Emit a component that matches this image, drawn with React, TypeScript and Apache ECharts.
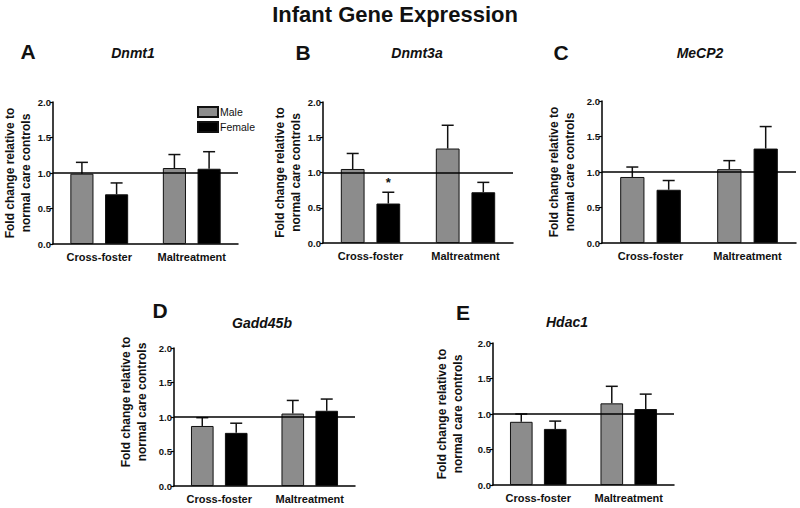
import React, { useEffect, useRef } from 'react';
import * as echarts from 'echarts';

const FONT = '"Liberation Sans", Arial, Helvetica, sans-serif';

const chartTitle = 'Infant Gene Expression';
const categories = ['Cross-foster', 'Maltreatment'];
const sexes = ['Male', 'Female'];
const yTicks = [0, 0.5, 1.0, 1.5, 2.0];
const yAxisName = 'Fold change relative to\nnormal care controls';
const referenceLevel = 1.0;

const panelLetters = ['A', 'B', 'C', 'D', 'E'];
const geneNames = ['Dnmt1', 'Dnmt3a', 'MeCP2', 'Gadd45b', 'Hdac1'];

// mean fold change, [Cross-foster, Maltreatment]
const dnmt1Male = [0.99, 1.07];
const dnmt1Female = [0.7, 1.06];
const dnmt3aMale = [1.05, 1.34];
const dnmt3aFemale = [0.56, 0.72];
const mecp2Male = [0.93, 1.04];
const mecp2Female = [0.75, 1.33];
const gadd45bMale = [0.87, 1.05];
const gadd45bFemale = [0.77, 1.09];
const hdac1Male = [0.89, 1.15];
const hdac1Female = [0.79, 1.07];

// SEM (upper whisker length)
const dnmt1MaleSem = [0.16, 0.19];
const dnmt1FemaleSem = [0.16, 0.24];
const dnmt3aMaleSem = [0.22, 0.33];
const dnmt3aFemaleSem = [0.16, 0.14];
const mecp2MaleSem = [0.14, 0.12];
const mecp2FemaleSem = [0.13, 0.31];
const gadd45bMaleSem = [0.12, 0.19];
const gadd45bFemaleSem = [0.14, 0.17];
const hdac1MaleSem = [0.11, 0.24];
const hdac1FemaleSem = [0.11, 0.21];

// significance markers
const dnmt3aFemaleSig = ['*', ''];

const maleMeans = [dnmt1Male, dnmt3aMale, mecp2Male, gadd45bMale, hdac1Male];
const femaleMeans = [dnmt1Female, dnmt3aFemale, mecp2Female, gadd45bFemale, hdac1Female];
const maleSems = [dnmt1MaleSem, dnmt3aMaleSem, mecp2MaleSem, gadd45bMaleSem, hdac1MaleSem];
const femaleSems = [dnmt1FemaleSem, dnmt3aFemaleSem, mecp2FemaleSem, gadd45bFemaleSem, hdac1FemaleSem];
const femaleSigs: string[][] = [['', ''], dnmt3aFemaleSig, ['', ''], ['', ''], ['', '']];

// layout (pixels)
const layouts = [
  { left: 53, width: 185, top: 102, bottom: 244, nameGap: 15, shift: 0, letter: [28, 51], gene: [133, 53] },
  { left: 323, width: 190, top: 102, bottom: 243, nameGap: 15, shift: 0, letter: [303, 52], gene: [417, 53] },
  { left: 602, width: 194, top: 101, bottom: 243, nameGap: 24, shift: 0, letter: [561, 52], gene: [700, 53] },
  { left: 174, width: 181, top: 348, bottom: 486, nameGap: 24, shift: 15, letter: [160, 310], gene: [262, 323] },
  { left: 493, width: 181, top: 343, bottom: 485, nameGap: 27, shift: 0, letter: [463, 312], gene: [567, 322] },
];

const MALE_COLOR = '#8c8c8c';
const FEMALE_COLOR = '#000000';
const BAR_FRAC = 0.25; // of category width
const GAP_FRAC = 0.5; // of bar width

export default function App() {
  const ref = useRef<HTMLDivElement>(null);

  useEffect(() => {
    if (!ref.current) return;
    const chart = echarts.init(ref.current, undefined, { renderer: 'svg' });

    const grids: any[] = [];
    const xAxes: any[] = [];
    const yAxes: any[] = [];
    const series: any[] = [];
    const graphics: any[] = [];

    graphics.push({
      type: 'text',
      x: 395,
      y: 14,
      style: {
        text: chartTitle,
        font: `bold 22px ${FONT}`,
        fill: '#111',
        textAlign: 'center',
        textVerticalAlign: 'middle',
      },
    });

    layouts.forEach((L, i) => {
      grids.push({ left: L.left, width: L.width, top: L.top, height: L.bottom - L.top, containLabel: false });
      xAxes.push({
        type: 'category',
        gridIndex: i,
        data: categories,
        axisLine: { show: true, lineStyle: { color: '#000', width: 1.5 } },
        axisTick: { show: false },
        axisLabel: {
          interval: 0,
          margin: 7,
          color: '#111',
          fontFamily: FONT,
          fontWeight: 'bold',
          fontSize: 11,
        },
      });
      yAxes.push({
        type: 'value',
        gridIndex: i,
        min: yTicks[0],
        max: yTicks[yTicks.length - 1],
        interval: 0.5,
        name: yAxisName,
        nameLocation: 'middle',
        nameGap: L.nameGap,
        nameTextStyle: {
          fontFamily: FONT,
          fontWeight: 'bold',
          fontSize: 12,
          lineHeight: 16,
          color: '#111',
          padding: L.shift ? [0, 0, 0, L.shift * 2] : 0,
        },
        axisLine: { show: true, lineStyle: { color: '#000', width: 1.5 } },
        axisTick: { show: true, length: 3, lineStyle: { color: '#000', width: 1.2 } },
        splitLine: { show: false },
        axisLabel: {
          margin: 2,
          color: '#111',
          fontFamily: FONT,
          fontWeight: 'bold',
          fontSize: 9.5,
          formatter: (v: number) => v.toFixed(1),
        },
      });

      const means = [maleMeans[i], femaleMeans[i]];
      const sems = [maleSems[i], femaleSems[i]];
      const sigs = [['', ''], femaleSigs[i]];

      sexes.forEach((sex, s) => {
        series.push({
          type: 'bar',
          name: sex,
          xAxisIndex: i,
          yAxisIndex: i,
          data: means[s],
          barWidth: `${BAR_FRAC * 100}%`,
          barGap: `${GAP_FRAC * 100}%`,
          itemStyle: {
            color: s === 0 ? MALE_COLOR : FEMALE_COLOR,
            borderColor: '#111',
            borderWidth: 1,
          },
          silent: true,
          z: 2,
        });
      });

      const errData: any[] = [];
      const sigFlat: string[] = [];
      sexes.forEach((_, s) => {
        categories.forEach((_, c) => {
          errData.push([c, means[s][c], sems[s][c], s]);
          sigFlat.push(sigs[s][c]);
        });
      });

      series.push({
        type: 'custom',
        name: 'err' + i,
        xAxisIndex: i,
        yAxisIndex: i,
        data: errData,
        encode: { x: 0, y: 1 },
        silent: true,
        z: 3,
        renderItem: (params: any, api: any) => {
          const c = api.value(0);
          const m = api.value(1);
          const e = api.value(2);
          const s = api.value(3);
          const base = api.coord([c, m]);
          const top = api.coord([c, m + e]);
          const cw = api.size([1, 0])[0];
          const bw = cw * BAR_FRAC;
          const dx = (s === 0 ? -1 : 1) * (bw * (1 + GAP_FRAC)) / 2;
          const x = base[0] + dx;
          const half = 6;
          const children: any[] = [
            { type: 'line', shape: { x1: x, y1: base[1], x2: x, y2: top[1] }, style: { stroke: '#111', lineWidth: 1.5 } },
            { type: 'line', shape: { x1: x - half, y1: top[1], x2: x + half, y2: top[1] }, style: { stroke: '#111', lineWidth: 1.5 } },
          ];
          const sig = sigFlat[params.dataIndex];
          if (sig) {
            children.push({
              type: 'text',
              style: {
                text: sig,
                x,
                y: top[1] - 3,
                font: `bold 13px ${FONT}`,
                fill: '#111',
                textAlign: 'center',
                textVerticalAlign: 'bottom',
              },
            });
          }
          return { type: 'group', children };
        },
        markLine: {
          silent: true,
          symbol: ['none', 'none'],
          label: { show: false },
          lineStyle: { color: '#000', width: 1.5, type: 'solid' },
          data: [{ yAxis: referenceLevel }],
          z: 4,
        },
      });

      graphics.push({
        type: 'text',
        x: L.letter[0],
        y: L.letter[1],
        style: {
          text: panelLetters[i],
          font: `bold 21px ${FONT}`,
          fill: '#111',
          textAlign: 'center',
          textVerticalAlign: 'middle',
        },
      });
      graphics.push({
        type: 'text',
        x: L.gene[0],
        y: L.gene[1],
        style: {
          text: geneNames[i],
          font: `italic bold 14px ${FONT}`,
          fill: '#111',
          textAlign: 'center',
          textVerticalAlign: 'middle',
        },
      });
    });

    chart.setOption({
      animation: false,
      backgroundColor: '#ffffff',
      textStyle: { fontFamily: FONT },
      grid: grids,
      xAxis: xAxes,
      yAxis: yAxes,
      legend: {
        data: sexes,
        left: 197,
        top: 106,
        orient: 'vertical',
        icon: 'rect',
        itemWidth: 20,
        itemHeight: 10,
        itemGap: 3,
        padding: 0,
        selectedMode: false,
        textStyle: { fontFamily: FONT, fontSize: 10.5, color: '#111', padding: [0, 0, 0, -3] },
      },
      series,
      graphic: graphics,
    });

    return () => chart.dispose();
  }, []);

  return (
    <div
      ref={ref}
      style={{ position: 'absolute', left: 0, top: 0, width: 800, height: 508, background: '#fff' }}
    />
  );
}
